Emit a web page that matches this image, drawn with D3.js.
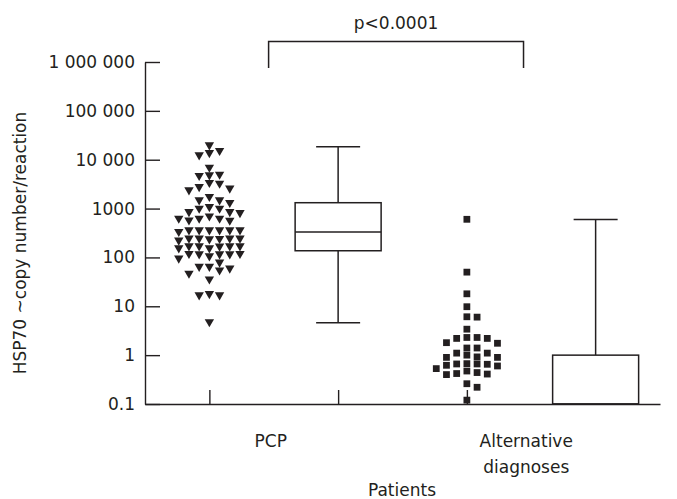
<!DOCTYPE html>
<html>
<head>
<meta charset="utf-8">
<script src="https://cdn.jsdelivr.net/npm/d3@7"></script>
<style>
  html, body { margin: 0; padding: 0; background: #fff; }
  svg { display: block; }
  text { font-family: "DejaVu Sans", sans-serif; fill: #231f20; }
</style>
</head>
<body>
<svg id="chart" width="677" height="499"></svg>
<script>
// ---- data ----
const groups = ["PCP", "Alternative diagnoses"];
const columns = ["PCP-points", "PCP-box", "Alt-points", "Alt-box"];
const yTickValues = [0.1, 1, 10, 100, 1000, 10000, 100000, 1000000];
const yTickLabels = ["0.1", "1", "10", "100", "1000", "10 000", "100 000", "1 000 000"];

const pcpValues = [
  20000, 15300, 13900, 12500, 6980, 5020, 4860, 4710, 3390, 3280, 2800, 2600, 2400,
  1750, 1500, 1500, 1320, 1090, 1010, 1010, 860, 860, 820, 700, 630, 630, 630, 630, 580,
  364, 364, 364, 364, 337, 364, 364, 288, 266, 246, 246, 246, 246, 246, 246,
  171, 171, 171, 171, 171, 171, 171, 171, 171, 131, 131, 107, 96, 96,
  65, 65, 60, 55, 47, 36, 18, 17, 17, 4.8
];
const altValues = [
  603, 50, 18, 9.8, 6.1, 6.0, 3.4, 2.3, 2.2, 2.2, 2.3, 1.8, 1.75, 1.4, 1.4,
  1.1, 1.0, 1.1, 0.9, 0.9, 0.92, 0.62, 0.65, 0.6, 0.66, 0.66, 0.67, 0.52, 0.53,
  0.42, 0.40, 0.41, 0.44, 0.26, 0.22, 0.12
];
// box summaries: [min, q1, median, q3, max]
const pcpBox = [4.6, 137, 331, 1318, 18400];
const altBox = [0.1, 0.1, 0.1, 1, 600];
const pLabel = "p<0.0001";
const yTitle = "HSP70 ~copy number/reaction";
const xTitle = "Patients";

// ---- chart ----
const ink = "#231f20";
const svg = d3.select("#chart");

const y = d3.scaleLog().domain([0.1, 1000000]).range([404, 62]);
const x = d3.scalePoint().domain(columns).range([145, 660]).padding(0.5);
const step = x.step();

// y axis
const yAxis = d3.axisLeft(y)
  .tickValues(yTickValues)
  .tickFormat((d, i) => yTickLabels[i])
  .tickSizeInner(-15).tickSizeOuter(0).tickPadding(10);
const gy = svg.append("g").attr("transform", "translate(145,0)").call(yAxis);
gy.selectAll("text").style("font-size", "17px").style("fill", ink)
  .style("font-family", '"DejaVu Sans", sans-serif');
gy.selectAll("line, path").attr("stroke", ink).attr("stroke-width", 1.4);

// x axis
const xAxis = d3.axisBottom(x).tickSizeInner(-14).tickSizeOuter(0).tickFormat("");
const gx = svg.append("g").attr("transform", "translate(0,404)").call(xAxis);
gx.selectAll("line, path").attr("stroke", ink).attr("stroke-width", 1.4);

// group labels
const groupCenter = g => g === 0
  ? (x("PCP-points") + x("PCP-box")) / 2
  : (x("Alt-points") + x("Alt-box")) / 2;
svg.append("text").attr("x", groupCenter(0) - 3).attr("y", 447)
  .attr("text-anchor", "middle").style("font-size", "17px").text(groups[0]);
const altLines = groups[1].split(" ");
altLines.forEach((t, i) => {
  svg.append("text").attr("x", groupCenter(1) - 5).attr("y", 447 + i * 26)
    .attr("text-anchor", "middle").style("font-size", "17px").text(t);
});
svg.append("text").attr("x", 402).attr("y", 496)
  .attr("text-anchor", "middle").style("font-size", "17px").text(xTitle);

// y title
svg.append("text").attr("transform", "translate(26,243) rotate(-90)")
  .attr("text-anchor", "middle").style("font-size", "17px").text(yTitle);

// swarm layout: place points in columns, avoiding vertical overlap
function swarm(values, cx, colStep, minGap) {
  const placed = [];
  const order = values.map((v, i) => ({ v, i })).sort((a, b) => b.v - a.v);
  const cands = [0, 1, -1, 2, -2, 3, -3];
  order.forEach(o => {
    let py = y(o.v);
    let done = false;
    let shift = 0;
    while (!done) {
      for (const c of cands) {
        const clash = placed.some(p => p.c === c && Math.abs(p.py - (py + shift)) < minGap);
        if (!clash) { placed.push({ c, py: py + shift }); done = true; break; }
      }
      shift += 2;
    }
  });
  return placed.map(p => ({ x: cx + p.c * colStep, y: p.py }));
}

const pcpPts = swarm(pcpValues, x("PCP-points"), 10.2, 7.5);
svg.append("g").selectAll("path").data(pcpPts).join("path")
  .attr("d", d3.symbol().type(d3.symbolTriangle).size(38))
  .attr("transform", d => `translate(${d.x},${d.y}) rotate(180)`)
  .attr("fill", ink);

const altPts = swarm(altValues, x("Alt-points"), 10.2, 6.5);
svg.append("g").selectAll("path").data(altPts).join("path")
  .attr("d", d3.symbol().type(d3.symbolSquare).size(46))
  .attr("transform", d => `translate(${d.x},${d.y})`)
  .attr("fill", ink);

// boxes
function drawBox(stats, cx) {
  const [mn, q1, md, q3, mx] = stats;
  const bw = 86, cw = 44;
  const g = svg.append("g").attr("stroke", ink).attr("stroke-width", 1.5).attr("fill", "none");
  g.append("line").attr("x1", cx).attr("x2", cx).attr("y1", y(mx)).attr("y2", y(q3));
  g.append("line").attr("x1", cx).attr("x2", cx).attr("y1", y(q1)).attr("y2", y(mn));
  g.append("line").attr("x1", cx - cw / 2).attr("x2", cx + cw / 2).attr("y1", y(mx)).attr("y2", y(mx));
  if (mn > 0.1) g.append("line").attr("x1", cx - cw / 2).attr("x2", cx + cw / 2).attr("y1", y(mn)).attr("y2", y(mn));
  g.append("rect").attr("x", cx - bw / 2).attr("width", bw)
    .attr("y", y(q3)).attr("height", y(q1) - y(q3)).attr("fill", "#fff");
  g.append("line").attr("x1", cx - bw / 2).attr("x2", cx + bw / 2).attr("y1", y(md)).attr("y2", y(md));
}
drawBox(pcpBox, x("PCP-box"));
drawBox(altBox, x("Alt-box"));

// significance bracket
const bx1 = x("PCP-points") + step * 0.46;
const bx2 = x("Alt-points") + step * 0.44;
svg.append("path")
  .attr("d", `M${bx1},68 V41.5 H${bx2} V68`)
  .attr("fill", "none").attr("stroke", ink).attr("stroke-width", 1.5);
svg.append("text").attr("x", (bx1 + bx2) / 2).attr("y", 29)
  .attr("text-anchor", "middle").style("font-size", "17px").text(pLabel);
</script>
</body>
</html>
